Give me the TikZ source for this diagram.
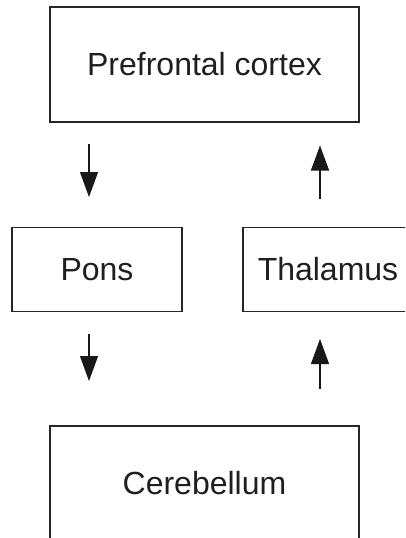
\documentclass[tikz,border=0pt]{standalone}
\usepackage{fontspec}
\setmainfont{Liberation Sans}
\usetikzlibrary{arrows.meta}
\begin{document}
\begin{tikzpicture}[x=1pt,y=-1pt,
  box/.style={draw=black!85, line width=1.2pt, fill=white, inner sep=0pt,
    font=\fontsize{32}{36}\selectfont, text=black!88},
  flow/.style={line width=1.1pt, draw=black!90,
    -{Triangle[length=25pt,width=18pt]}}]
\useasboundingbox (0,0) rectangle (405,538);
\clip (0,0) rectangle (405,538);
\fill[white] (0,0) rectangle (405,538);
\node[box, minimum width=309pt, minimum height=115pt] (pfc) at (204.5,64.5) {Prefrontal cortex};
\node[box, minimum width=170pt, minimum height=84pt] (pons) at (97,269.5) {Pons};
\node[box, minimum width=170pt, minimum height=84pt] (thal) at (328,269.5) {Thalamus};
\node[box, minimum width=309pt, minimum height=115pt] (cer) at (204.5,483.5) {Cerebellum};
\coordinate (a1s) at (89,144);
\coordinate (a1e) at (89,197);
\coordinate (a2s) at (320,198.5);
\coordinate (a2e) at (320,145.5);
\coordinate (a3s) at (89,334);
\coordinate (a3e) at (89,381);
\coordinate (a4s) at (320,388.5);
\coordinate (a4e) at (320,339);
\draw[flow] (a1s) -- (a1e);
\draw[flow] (a2s) -- (a2e);
\draw[flow] (a3s) -- (a3e);
\draw[flow] (a4s) -- (a4e);
\end{tikzpicture}
\end{document}
